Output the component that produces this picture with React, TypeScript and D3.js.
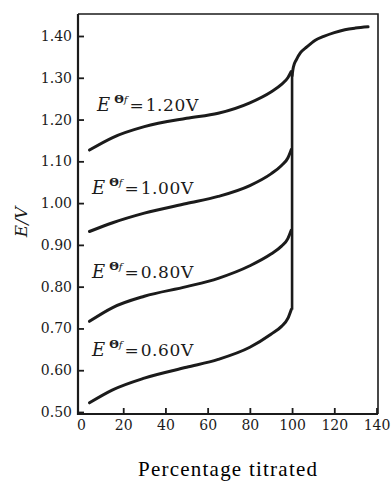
import React, { useEffect, useRef } from 'react';
import * as d3 from 'd3';

// percentage titrated at which the four titrand curves were read
const pct = [4, 15, 30, 50, 65, 80, 90, 95, 98, 99.6];
// E/V for each formal potential E°f
const e060 = [0.522, 0.553, 0.581, 0.607, 0.626, 0.655, 0.686, 0.705, 0.724, 0.745];
const e080 = [0.717, 0.750, 0.777, 0.800, 0.820, 0.850, 0.878, 0.897, 0.915, 0.935];
const e100 = [0.932, 0.953, 0.976, 0.999, 1.016, 1.042, 1.070, 1.090, 1.108, 1.128];
const e120 = [1.127, 1.157, 1.183, 1.203, 1.215, 1.240, 1.266, 1.284, 1.300, 1.315];
const formal = ['0.60', '0.80', '1.00', '1.20'];

// common branch after the equivalence point
const postPct = [100, 100.6, 102, 104, 107, 111, 115, 120, 125, 130, 136];
const postE = [1.305, 1.325, 1.343, 1.360, 1.374, 1.390, 1.399, 1.408, 1.415, 1.419, 1.422];

const jump = [0.745, 1.31];

const xTicks = [0, 20, 40, 60, 80, 100, 120, 140];
const yTicks = [0.5, 0.6, 0.7, 0.8, 0.9, 1.0, 1.1, 1.2, 1.3, 1.4];

function TitrationChart() {
    const svgRef = useRef<SVGSVGElement>(null);

    useEffect(() => {
        const width = 392;
        const height = 483;
        const ink = '#1b1b1b';
        const serif = '"DejaVu Serif", serif';

        const x = d3.scaleLinear().domain([0, 140]).range([81, 376.5]);
        const y = d3.scaleLinear().domain([0.5, 1.4]).range([412, 36]);

        const svg = d3.select(svgRef.current)
            .attr('width', width)
            .attr('height', height)
            .attr('viewBox', [0, 0, width, height] as any);

        svg.selectAll('*').remove();

        svg.append('rect')
            .attr('width', width).attr('height', height)
            .attr('fill', '#fff');

        const left = 78, right = 378, top = 14, bottom = 414;

        // top + right frame (thinner)
        svg.append('path')
            .attr('d', `M${left},${top}H${right}V${bottom}`)
            .attr('fill', 'none')
            .attr('stroke', ink)
            .attr('stroke-width', 1.6);

        // left + bottom axes
        svg.append('path')
            .attr('d', `M${left},${top}V${bottom}H${right}`)
            .attr('fill', 'none')
            .attr('stroke', ink)
            .attr('stroke-width', 2.2);

        const yAxis = svg.append('g')
            .attr('transform', `translate(${left},0)`)
            .call(d3.axisLeft(y).tickValues(yTicks).tickSize(-6).tickPadding(6).tickFormat(d3.format('.2f')));
        yAxis.select('.domain').remove();

        const xAxis = svg.append('g')
            .attr('transform', `translate(0,${bottom})`)
            .call(d3.axisBottom(x).tickValues(xTicks).tickSize(-6).tickPadding(6).tickFormat(d3.format('d')));
        xAxis.select('.domain').remove();
        xAxis.selectAll('.tick').filter((d: any) => d === 0).select('line').remove();

        [yAxis, xAxis].forEach(g => {
            g.selectAll('line').attr('stroke', ink).attr('stroke-width', 1.8);
            g.selectAll('text')
                .attr('fill', ink)
                .style('font-family', serif)
                .style('font-size', '14px');
        });

        const line = d3.line<[number, number]>()
            .x(d => x(d[0]))
            .y(d => y(d[1]))
            .curve(d3.curveMonotoneX);

        const series = [e060, e080, e100, e120];
        series.forEach(vals => {
            svg.append('path')
                .datum(pct.map((p, i) => [p, vals[i]] as [number, number]))
                .attr('fill', 'none')
                .attr('stroke', ink)
                .attr('stroke-width', 3)
                .attr('stroke-linecap', 'round')
                .attr('d', line);
        });

        svg.append('path')
            .datum(postPct.map((p, i) => [p, postE[i]] as [number, number]))
            .attr('fill', 'none')
            .attr('stroke', ink)
            .attr('stroke-width', 3)
            .attr('stroke-linecap', 'round')
            .attr('d', line);

        svg.append('line')
            .attr('x1', x(100)).attr('x2', x(100))
            .attr('y1', y(jump[0])).attr('y2', y(jump[1]))
            .attr('stroke', ink)
            .attr('stroke-width', 2.6);

        // curve labels
        formal.forEach((f, i) => {
            const e0 = +f;
            const lx = i === 3 ? 97 : 92;
            const t = svg.append('text')
                .attr('x', lx)
                .attr('y', y(e0) - 9 + (i === 0 ? -5 : 0))
                .attr('fill', ink)
                .style('font-family', serif)
                .style('font-size', '17px');
            t.append('tspan').style('font-style', 'italic').style('font-size', '18px').text('E');
            t.append('tspan').attr('dx', 4).attr('dy', -8)
                .style('font-size', '11px').style('font-weight', 'bold').text('Θ');
            t.append('tspan').style('font-size', '10px').style('font-style', 'italic').text('f');
            t.append('tspan').attr('dx', 2).attr('dy', 8).text('=');
            t.append('tspan').attr('dx', 2).style('letter-spacing', '0.6px').text(`${f}V`);
        });

        // axis titles
        svg.append('text')
            .attr('transform', `translate(27,222) rotate(-90)`)
            .attr('text-anchor', 'middle')
            .attr('fill', ink)
            .style('font-family', serif)
            .style('font-style', 'italic')
            .style('font-size', '17px')
            .text('E/V');

        svg.append('text')
            .attr('x', 227.5)
            .attr('y', 476)
            .attr('text-anchor', 'middle')
            .attr('fill', '#000')
            .attr('textLength', 179)
            .style('font-family', '"Liberation Serif", serif')
            .style('font-size', '21px')
            .text('Percentage titrated');
    }, []);

    return <svg ref={svgRef} style={{ position: 'absolute', left: 0, top: 0 }}></svg>;
}

export default function App() {
    return <TitrationChart />;
}
